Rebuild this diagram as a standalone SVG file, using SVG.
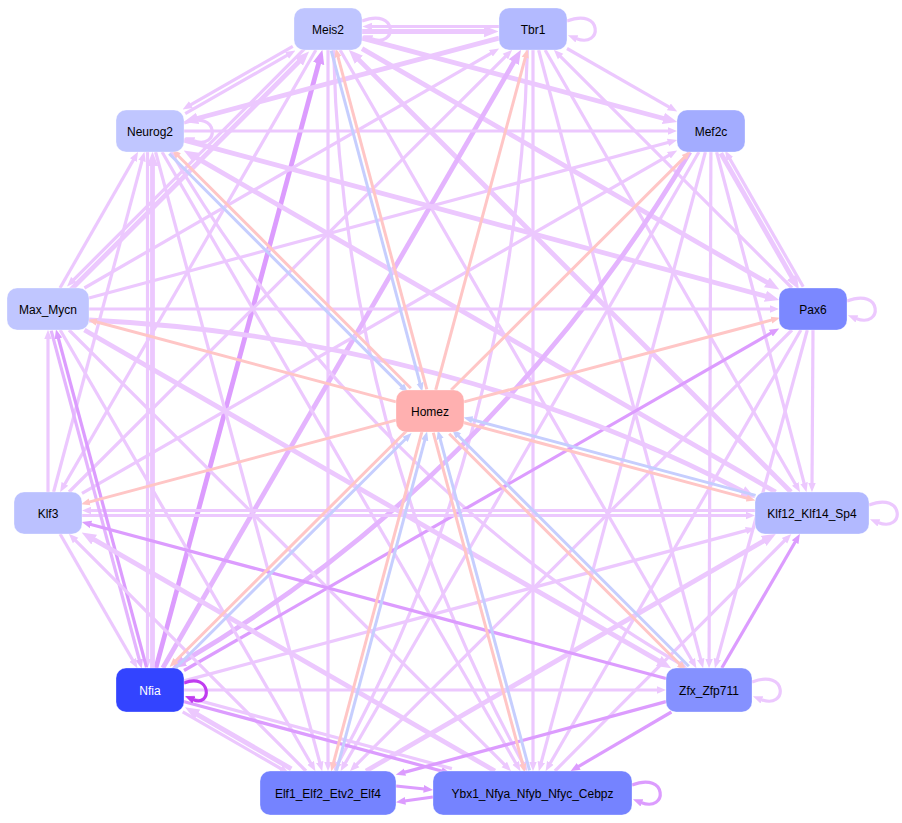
<svg xmlns="http://www.w3.org/2000/svg" width="902" height="823" viewBox="0 0 902 823">
<style>
.e{fill:none;stroke-linecap:butt}
.w2{stroke-width:3}.w3{stroke-width:3.2}.w4{stroke-width:4.8}
.L{stroke:#ecc8fe;marker-end:url(#aL)}
.M{stroke:#e4b4fe;marker-end:url(#aM)}
.D{stroke:#dc9cfe;marker-end:url(#aD)}
.V{stroke:#c03cf0;marker-end:url(#aV)}
.P{stroke:#ffc6c6;marker-end:url(#aP)}
.B{stroke:#c6cefe;marker-end:url(#aB)}
.n rect{stroke:#ffffff;stroke-opacity:.3;stroke-width:1}
.n text{font-family:"Liberation Sans",Arial,sans-serif;font-size:12px;text-anchor:middle;fill:#000}
</style>
<defs>
<marker id="aL" viewBox="0 -1.4 3 2.8" refX="0.3" refY="0" markerWidth="3" markerHeight="2.8" orient="auto" markerUnits="strokeWidth"><path d="M0,-1.2L3,0L0,1.2z" fill="#ecc8fe"/></marker>
<marker id="aM" viewBox="0 -1.4 3 2.8" refX="0.3" refY="0" markerWidth="3" markerHeight="2.8" orient="auto" markerUnits="strokeWidth"><path d="M0,-1.2L3,0L0,1.2z" fill="#e4b4fe"/></marker>
<marker id="aD" viewBox="0 -1.4 3 2.8" refX="0.3" refY="0" markerWidth="3" markerHeight="2.8" orient="auto" markerUnits="strokeWidth"><path d="M0,-1.2L3,0L0,1.2z" fill="#dc9cfe"/></marker>
<marker id="aV" viewBox="0 -1.4 3 2.8" refX="0.3" refY="0" markerWidth="3" markerHeight="2.8" orient="auto" markerUnits="strokeWidth"><path d="M0,-1.2L3,0L0,1.2z" fill="#c03cf0"/></marker>
<marker id="aP" viewBox="0 -1.4 3 2.8" refX="0.3" refY="0" markerWidth="3" markerHeight="2.8" orient="auto" markerUnits="strokeWidth"><path d="M0,-1.2L3,0L0,1.2z" fill="#ffc6c6"/></marker>
<marker id="aB" viewBox="0 -1.4 3 2.8" refX="0.3" refY="0" markerWidth="3" markerHeight="2.8" orient="auto" markerUnits="strokeWidth"><path d="M0,-1.2L3,0L0,1.2z" fill="#c6cefe"/></marker>
</defs>
<g id="connectors">
<path class="e L w4" d="M362,31.5L485.5,31.5"/>
<path class="e L w3" d="M499,26.5L371,26.5"/>
<path class="e L w3" d="M292.8,46.3L190.1,105.1"/>
<path class="e L w3" d="M185.2,113.7L287.9,54.9"/>
<path class="e L w4" d="M362,38.1L664.8,118.7"/>
<path class="e L w4" d="M362,48.6L768.1,283.1"/>
<path class="e L w4" d="M791,492L357.9,58.9"/>
<path class="e L w3" d="M340.1,50L692.1,660.7"/>
<path class="e L w3" d="M328,50L328,762.6"/>
<path class="e L w3" d="M333.6,50C339.6,303.8 405.4,549 523.1,763.6"/>
<path class="e L w4" d="M70.8,289.8L299.9,60.7"/>
<path class="e L w3" d="M305.2,48.2L73.1,280.3"/>
<path class="e D w4" d="M155.9,668L319,62.2"/>
<path class="e L w3" d="M315.9,50L64.4,484.7"/>
<path class="e L w4" d="M499,38.1L196.2,118.7"/>
<path class="e L w3" d="M84.4,288L491.7,52.8"/>
<path class="e L w3" d="M567,48.5L669.7,107.3"/>
<path class="e L w3" d="M792,288L559.9,55.9"/>
<path class="e L w3" d="M545.1,50L795.7,484.7"/>
<path class="e L w3" d="M538.6,50L700.9,659.9"/>
<path class="e L w3" d="M533,50L533,762.6"/>
<path class="e M w4" d="M162.8,668L514.5,60.9"/>
<path class="e L w3" d="M527.4,50C521.4,303.8 455.6,549 337.9,763.6"/>
<path class="e L w3" d="M69,492L506.1,55.9"/>
<path class="e L w3" d="M184,131L668.6,131"/>
<path class="e L w4" d="M184,140.1L766.8,296.6"/>
<path class="e L w4" d="M775.6,492L194.9,156.9"/>
<path class="e L w3" d="M171,152C298.1,366.7 473.6,542.2 679.8,663.7"/>
<path class="e L w3" d="M162.1,152L516.1,763.7"/>
<path class="e L w3" d="M155.6,152L319.9,762.9"/>
<path class="e L w3" d="M147.5,152L147.5,659.6"/>
<path class="e L w4" d="M152.5,668L152.5,164.6"/>
<path class="e L w3" d="M60,288L133.8,159.3"/>
<path class="e L w3" d="M53.6,492L142.2,160.1"/>
<path class="e L w4" d="M720.8,153.2L792.5,278.3"/>
<path class="e L w3" d="M803.2,286.8L729.4,158.1"/>
<path class="e L w3" d="M716.6,152L804.3,483.9"/>
<path class="e L w3" d="M710.9,152L709.1,659.6"/>
<path class="e L w3" d="M705.4,152L541.1,762.9"/>
<path class="e L w3" d="M698.9,152L344.9,763.7"/>
<path class="e M w4" d="M689.9,152C562.2,366.8 386.4,542.3 183,661.6"/>
<path class="e L w3" d="M89,298L668.9,142.3"/>
<path class="e L w3" d="M82,493.4L669.7,154.8"/>
<path class="e L w3" d="M813,330L812,483.6"/>
<path class="e L w3" d="M807.3,330L717.2,659.9"/>
<path class="e L w3" d="M800.9,330L549.9,763.7"/>
<path class="e L w3" d="M792,330L356,765.1"/>
<path class="e D w3" d="M184,670.5L771.7,332.7"/>
<path class="e L w3" d="M89,309L770.6,309"/>
<path class="e L w4" d="M89,320C327.3,331.8 553.7,392.2 743.8,491.9"/>
<path class="e L w3" d="M82,515.5L746.6,515.5"/>
<path class="e L w3" d="M755,510.5L90.4,510.5"/>
<path class="e L w3" d="M184,680.9L746.9,530.4"/>
<path class="e L w4" d="M366,771L764.8,540.3"/>
<path class="e D w3" d="M721.8,668L795.6,541.3"/>
<path class="e L w3" d="M554.9,771L785.2,540"/>
<path class="e L w3" d="M48,492L48,338.4"/>
<path class="e M w3" d="M51.2,330.6L139.5,660.5"/>
<path class="e D w3" d="M146.5,667.4L58.2,337.5"/>
<path class="e L w4" d="M84.4,330L660,661.7"/>
<path class="e L w3" d="M69,330L505,765.1"/>
<path class="e L w3" d="M60.2,330L311.1,763.7"/>
<path class="e L w3" d="M60.1,534L133.1,660.7"/>
<path class="e L w3" d="M306,771L74.9,539.9"/>
<path class="e L w4" d="M494.9,771L92.9,538.9"/>
<path class="e D w3" d="M666,678.5L90.1,524.3"/>
<path class="e L w3" d="M184,690L657.6,690"/>
<path class="e L w3" d="M182.7,711.9L281.5,769"/>
<path class="e L w4" d="M291.3,768.8L196.2,713.8"/>
<path class="e D w3" d="M183.4,701.5L442.5,771.2"/>
<path class="e L w3" d="M451.9,768.6L192.8,698.9"/>
<path class="e D w3" d="M666,701.6L404.1,772.4"/>
<path class="e D w3" d="M671.4,712L577.9,766.8"/>
<path class="e D w3" d="M396,786L424.6,789"/>
<path class="e D w3" d="M433,797L404.4,801"/>
<path class="e L w3" d="M362,21C398,7 398,49 371,38.5"/>
<path class="e L w3" d="M567,21C603,7 603,49 576,38.5"/>
<path class="e L w3" d="M184,123C220,109 220,151 193,140.5"/>
<path class="e L w3" d="M847,301C883,287 883,329 856,318.5"/>
<path class="e L w3" d="M869,505C905,491 905,533 878,522.5"/>
<path class="e L w3" d="M752,682C788,668 788,710 761,699.5"/>
<path class="e V w3" d="M184,683C212,672 212,708 193,699.5"/>
<path class="e D w3" d="M632,785C668,771 668,813 641,802.5"/>
<path class="e P w2" d="M426.8,389.4L337.8,56.2"/>
<path class="e B w2" d="M331.2,50.6L420.2,383.8"/>
<path class="e P w2" d="M435.7,390L525.5,56.8"/>
<path class="e P w2" d="M410.8,388.2L177.7,155.2"/>
<path class="e B w2" d="M169.2,153.8L402.3,386.9"/>
<path class="e P w2" d="M451.1,390L684.9,156.9"/>
<path class="e P w2" d="M396,401.9L95.8,321.8"/>
<path class="e P w2" d="M464,401.9L772.2,319.9"/>
<path class="e P w2" d="M396,420.1L88.8,502.1"/>
<path class="e P w2" d="M463.4,422.5L747.6,498.4"/>
<path class="e B w2" d="M755.6,495.4L471.4,419.5"/>
<path class="e P w2" d="M407.2,430.2L175.3,661.3"/>
<path class="e B w2" d="M173.9,669.8L405.8,438.7"/>
<path class="e P w2" d="M449.2,433.8L680.3,664.8"/>
<path class="e B w2" d="M688.8,666.2L457.8,435.2"/>
<path class="e P w2" d="M422,431.4L333.3,763.6"/>
<path class="e B w2" d="M336.3,771.6L425,439.4"/>
<path class="e P w2" d="M433.3,432.7L522.9,764.9"/>
<path class="e B w2" d="M529.5,770.3L439.9,438.1"/>
</g>
<g id="Meis2" class="n"><rect x="294" y="8" width="68" height="42" rx="10" fill="#bfc5ff"/><text x="328" y="33.5">Meis2</text></g>
<g id="Tbr1" class="n"><rect x="499" y="8" width="68" height="42" rx="10" fill="#b3baff"/><text x="533" y="33.5">Tbr1</text></g>
<g id="Neurog2" class="n"><rect x="116" y="110" width="68" height="42" rx="10" fill="#c0c6ff"/><text x="150" y="135.5">Neurog2</text></g>
<g id="Mef2c" class="n"><rect x="677" y="110" width="68" height="42" rx="10" fill="#a3acff"/><text x="711" y="135.5">Mef2c</text></g>
<g id="Max_Mycn" class="n"><rect x="7" y="288" width="82" height="42" rx="10" fill="#c0c6ff"/><text x="48" y="313.5">Max_Mycn</text></g>
<g id="Pax6" class="n"><rect x="779" y="288" width="68" height="42" rx="10" fill="#7b88ff"/><text x="813" y="313.5">Pax6</text></g>
<g id="Homez" class="n"><rect x="396" y="390" width="68" height="42" rx="10" fill="#ffb0b0"/><text x="430" y="415.5">Homez</text></g>
<g id="Klf3" class="n"><rect x="14" y="492" width="68" height="42" rx="10" fill="#bbc1ff"/><text x="48" y="517.5">Klf3</text></g>
<g id="Klf12_Klf14_Sp4" class="n"><rect x="755" y="492" width="114" height="42" rx="10" fill="#b2b9ff"/><text x="812" y="517.5">Klf12_Klf14_Sp4</text></g>
<g id="Nfia" class="n"><rect x="116" y="668" width="68" height="44" rx="10" fill="#3344ff"/><text x="150" y="694.5" style="fill:#ffffff">Nfia</text></g>
<g id="Zfx_Zfp711" class="n"><rect x="666" y="668" width="86" height="44" rx="10" fill="#8591ff"/><text x="709" y="694.5">Zfx_Zfp711</text></g>
<g id="Elf1_Elf2_Etv2_Elf4" class="n"><rect x="260" y="771" width="136" height="44" rx="10" fill="#7583ff"/><text x="328" y="797.5">Elf1_Elf2_Etv2_Elf4</text></g>
<g id="Ybx1_Nfya_Nfyb_Nfyc_Cebpz" class="n"><rect x="433" y="771" width="199" height="44" rx="10" fill="#7583ff"/><text x="532.5" y="797.5">Ybx1_Nfya_Nfyb_Nfyc_Cebpz</text></g>
</svg>
